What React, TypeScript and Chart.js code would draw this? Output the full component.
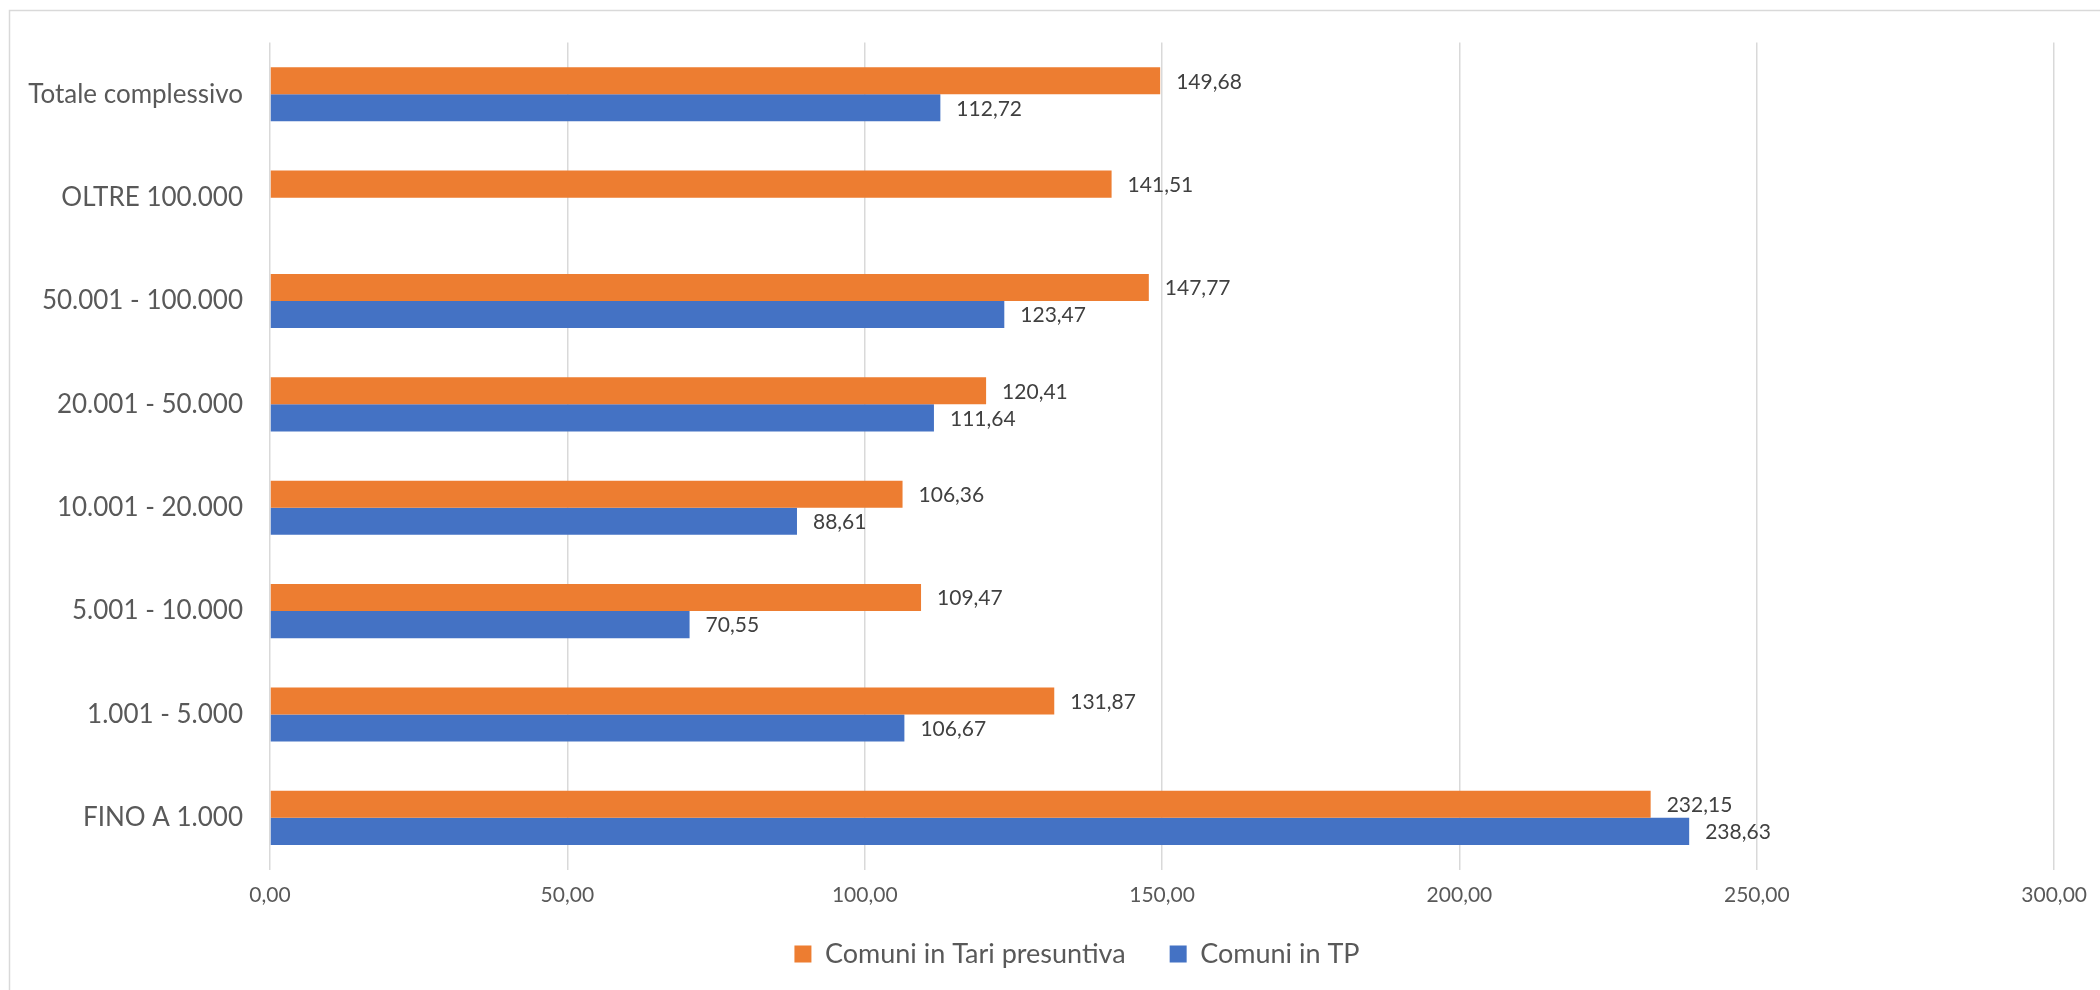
import React, { useEffect, useRef } from "react";
import { Chart, registerables } from "chart.js";

Chart.register(...registerables);

const categories = [
  "Totale complessivo",
  "OLTRE 100.000",
  "50.001 - 100.000",
  "20.001 - 50.000",
  "10.001 - 20.000",
  "5.001 - 10.000",
  "1.001 - 5.000",
  "FINO A 1.000",
];
const tariPresuntiva = [149.68, 141.51, 147.77, 120.41, 106.36, 109.47, 131.87, 232.15];
const comuniTP = [112.72, null, 123.47, 111.64, 88.61, 70.55, 106.67, 238.63];
const seriesNames = ["Comuni in Tari presuntiva", "Comuni in TP"];
const xMin = 0;
const xMax = 300;
const xStep = 50;

const ORANGE = "#ED7D31";
const BLUE = "#4472C4";
const FONT = "Lato, 'Open Sans', sans-serif";

const fmt = (v: number) => Number(v).toFixed(2).replace(".", ",");

const framePlugin = {
  id: "frame",
  beforeDraw(chart: any) {
    const ctx = chart.ctx;
    ctx.save();
    ctx.fillStyle = "#FFFFFF";
    ctx.fillRect(0, 0, chart.width, chart.height);
    ctx.strokeStyle = "#D9D9D9";
    ctx.lineWidth = 1.5;
    ctx.beginPath();
    ctx.moveTo(9.5, chart.height + 5);
    ctx.lineTo(9.5, 10.5);
    ctx.lineTo(chart.width + 5, 10.5);
    ctx.stroke();
    ctx.restore();
  },
};

// Excel centres the legend on the full (cropped) chart object, which is wider than the visible page.
const legendShiftPlugin = {
  id: "legendShift",
  afterLayout(chart: any) {
    const lg = chart.legend;
    if (!lg) return;
    lg.left += 41;
    lg.right += 41;
    lg.top -= 17;
    lg.bottom -= 17;
  },
};

const labelPlugin = {
  id: "valueLabels",
  afterDatasetsDraw(chart: any) {
    const ctx = chart.ctx;
    ctx.save();
    ctx.font = `21px ${FONT}`;
    ctx.fillStyle = "#404040";
    ctx.textAlign = "left";
    ctx.textBaseline = "middle";
    chart.data.datasets.forEach((ds: any, di: number) => {
      const meta = chart.getDatasetMeta(di);
      meta.data.forEach((el: any, i: number) => {
        const v = ds.data[i];
        if (v === null || v === undefined) return;
        ctx.fillText(fmt(v), el.x + 16, el.y + 1);
      });
    });
    ctx.restore();
  },
};

export default function App() {
  const ref = useRef<HTMLCanvasElement | null>(null);

  useEffect(() => {
    if (!ref.current) return;
    const chart = new Chart(ref.current, {
      type: "bar",
      data: {
        labels: categories,
        datasets: [
          {
            label: seriesNames[0],
            data: tariPresuntiva,
            backgroundColor: ORANGE,
            borderWidth: 0,
            categoryPercentage: 0.524,
            barPercentage: 1,
          },
          {
            label: seriesNames[1],
            data: comuniTP,
            backgroundColor: BLUE,
            borderWidth: 0,
            categoryPercentage: 0.524,
            barPercentage: 1,
          },
        ],
      },
      options: {
        indexAxis: "y",
        animation: false,
        responsive: false,
        maintainAspectRatio: false,
        layout: { padding: { left: 9, right: 37, top: 39, bottom: -4.5 } },
        scales: {
          x: {
            min: xMin,
            max: xMax,
            ticks: {
              stepSize: xStep,
              callback: (v: any) => fmt(v),
              color: "#595959",
              font: { family: FONT, size: 21 },
              padding: 13,
            },
            grid: { color: "#D9D9D9", lineWidth: 1.5, drawTicks: false },
            border: { display: false },
            afterFit: (s: any) => {
              s.height = 44;
            },
          },
          y: {
            ticks: {
              color: "#595959",
              font: { family: FONT, size: 26 },
              padding: 27,
            },
            grid: { display: false, drawTicks: false },
            border: { display: false },
            afterFit: (s: any) => {
              s.width = 261;
            },
          },
        },
        plugins: {
          legend: {
            position: "bottom",
            labels: {
              boxWidth: 17,
              boxHeight: 17,
              color: "#595959",
              font: { family: FONT, size: 27 },
              padding: 44,
            },
          },
          tooltip: { enabled: false },
        },
      },
      plugins: [framePlugin, legendShiftPlugin, labelPlugin],
    });
    return () => chart.destroy();
  }, []);

  return (
    <div style={{ position: "fixed", left: 0, top: 0, width: 2100, height: 990, overflow: "hidden", background: "#fff" }}>
      <canvas ref={ref} width={2100} height={990} style={{ display: "block" }} />
    </div>
  );
}
